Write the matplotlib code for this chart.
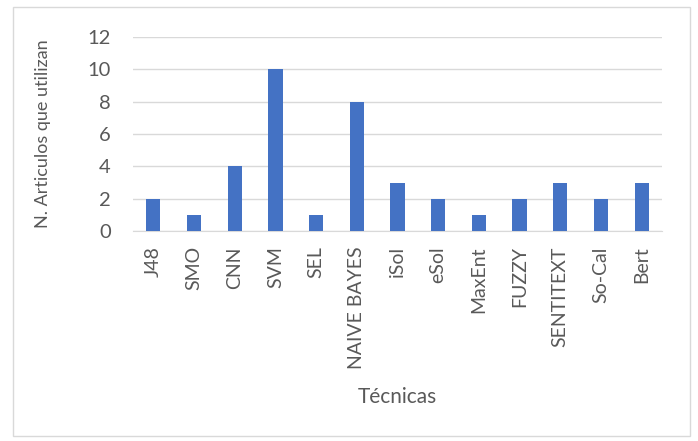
import matplotlib.pyplot as plt
import matplotlib.patches as mpatches

tecnicas = ['J48', 'SMO', 'CNN', 'SVM', 'SEL', 'NAIVE BAYES', 'iSol', 'eSol',
            'MaxEnt', 'FUZZY', 'SENTITEXT', 'So-Cal', 'Bert']
articulos = [2, 1, 4, 10, 1, 8, 3, 2, 1, 2, 3, 2, 3]
yticks = [0, 2, 4, 6, 8, 10, 12]

plt.rcParams['font.family'] = ['Lato', 'DejaVu Sans']

fig = plt.figure(figsize=(6.98, 4.41), dpi=100)
ax = fig.add_axes([133 / 698, 1 - 231 / 441, (662 - 133) / 698, (231 - 37) / 441])

x = range(len(tecnicas))
ax.bar(x, articulos, width=0.35, color='#4472C4', zorder=3)
ax.set_xlim(-0.5, len(tecnicas) - 0.5)
ax.set_ylim(0, 12)
ax.set_yticks(yticks)
ax.set_xticks(list(x))
ax.set_xticklabels(tecnicas, rotation=90, fontsize=14, color='#595959')
ax.tick_params(axis='y', labelsize=14.5, colors='#595959', length=0, pad=16)
ax.tick_params(axis='x', length=0, pad=11)
ax.grid(axis='y', color='#D9D9D9', linewidth=1, zorder=0)
for s in ['top', 'right', 'left']:
    ax.spines[s].set_visible(False)
ax.spines['bottom'].set_color('#D9D9D9')

ax.set_xlabel('Técnicas', fontsize=15, color='#595959', labelpad=13)
ax.set_ylabel('N. Articulos que utilizan', fontsize=13, color='#595959', labelpad=26)

fig.patches.append(mpatches.Rectangle((13 / 698, 5 / 441), 677 / 698, 429 / 441,
                                      transform=fig.transFigure, fill=False,
                                      edgecolor='#D9D9D9', linewidth=1))

fig.savefig('out.png', dpi=100)
